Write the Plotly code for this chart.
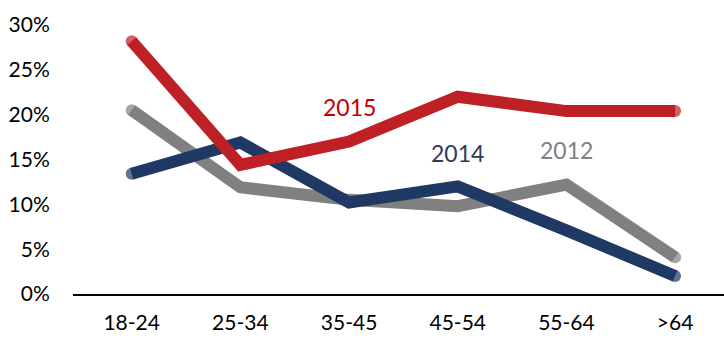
import plotly.graph_objects as go

age_groups = ["18-24", "25-34", "35-45", "45-54", "55-64", ">64"]
share_2015 = [28.2, 14.4, 17.0, 22.0, 20.4, 20.4]
share_2014 = [13.4, 16.9, 10.2, 12.0, 7.1, 2.0]
share_2012 = [20.5, 11.9, 10.5, 9.8, 12.2, 4.1]
y_ticks = [0, 5, 10, 15, 20, 25, 30]
y_tick_labels = [f"{v}%" for v in y_ticks]

# name, values, line colour, label colour, label position (category index, %)
series = [
    ("2012", share_2012, "#808080", "#808080", 4.0, 16.1),
    ("2014", share_2014, "#1F3864", "#2E3B55", 3.0, 15.7),
    ("2015", share_2015, "#BE2026", "#C00000", 2.0, 20.8),
]

FONT = "Lato, sans-serif"

fig = go.Figure()
for name, values, color, text_color, lx, ly in series:
    n = len(values)
    fig.add_trace(go.Scatter(
        x=age_groups, y=values, mode="lines+markers", name=name,
        line=dict(color=color, width=12),
        marker=dict(color=color, size=[12] + [0] * (n - 2) + [12], line=dict(width=0)),
        cliponaxis=False, showlegend=False,
    ))
    fig.add_annotation(x=lx, y=ly, text=name, showarrow=False,
                       font=dict(family=FONT, size=23, color=text_color))

fig.update_layout(
    width=724, height=338,
    margin=dict(l=73, r=0, t=25, b=44),
    paper_bgcolor="white", plot_bgcolor="white",
    font=dict(family=FONT, size=21, color="#000000"),
    xaxis=dict(type="category", range=[-0.54, 5.45], showgrid=False,
               showline=True, linecolor="#000000", linewidth=2,
               ticks="outside", ticklen=9, tickcolor="rgba(0,0,0,0)",
               zeroline=False),
    yaxis=dict(range=[0, 30], tickvals=y_ticks, ticktext=y_tick_labels,
               showgrid=False, zeroline=False, showline=False,
               ticks="outside", ticklen=18, tickcolor="rgba(0,0,0,0)"),
)

fig.write_html("out.html")
